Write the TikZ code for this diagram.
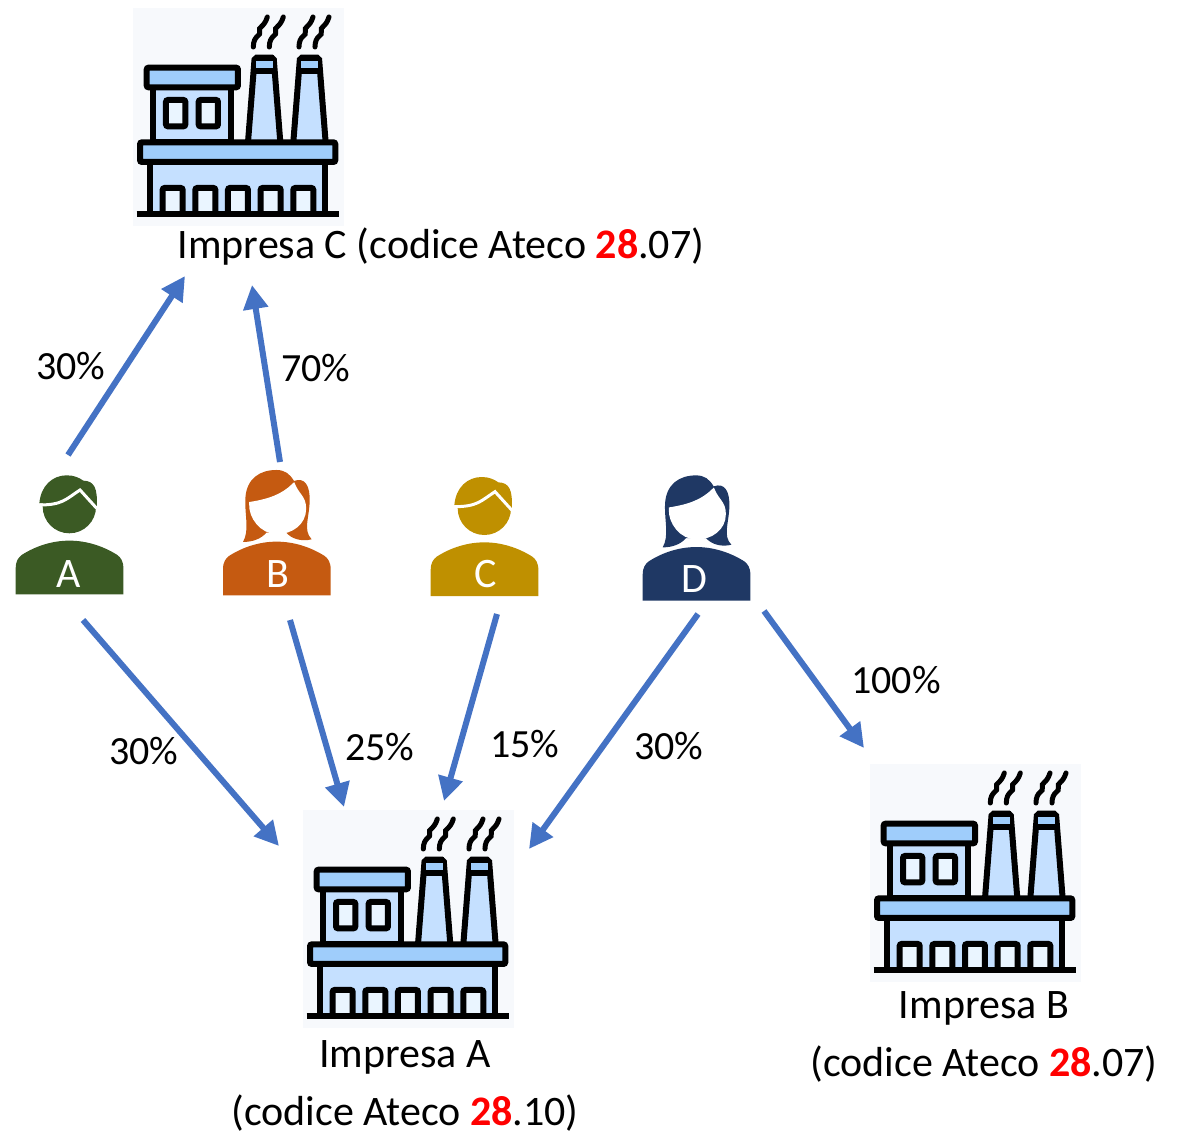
\documentclass[tikz,border=0pt]{standalone}
\usepackage{fontspec}
\setmainfont{Carlito}
\usetikzlibrary{arrows.meta}
\definecolor{ArrowBlue}{HTML}{4472C4}
\definecolor{PanelGrey}{HTML}{F7F9FC}
\definecolor{WallBlue}{HTML}{C5E0FF}
\definecolor{RoofBlue}{HTML}{9FCDFB}
\definecolor{GlassBlue}{HTML}{EAF5FF}
\definecolor{PersonGreen}{HTML}{3B5A24}
\definecolor{PersonOrange}{HTML}{C55A11}
\definecolor{PersonGold}{HTML}{BF9000}
\definecolor{PersonNavy}{HTML}{1F3864}
\tikzset{
  share/.style={very thick, ArrowBlue, line width=6pt, -{Triangle[length=24pt,width=24pt]}},
  pct/.style={font=\fontsize{40}{48}\selectfont},
  firm/.style={font=\fontsize{42}{58}\selectfont, align=center},
  letter/.style={white, font=\fontsize{42}{50}\selectfont},
  smoke/.style={line width=5pt, line cap=round},
  man/.pic={
    \begin{scope}[scale=0.3333]
    \fill[pic actions] (0,0) -- (0,-78) .. controls (0,-100) and (8,-110) .. (18,-118)
      .. controls (60,-145) and (110,-161) .. (161,-161)
      .. controls (212,-161) and (262,-145) .. (305,-118)
      .. controls (315,-110) and (323,-100) .. (323,-78) -- (323,0) -- cycle;
    \fill[pic actions] (161,-263) circle (80);
    %
    \fill[pic actions] (71,-273) .. controls (75,-325) and (110,-357) .. (153,-357)
      .. controls (175,-357) and (190,-350) .. (203,-341)
      .. controls (235,-340) and (247,-320) .. (243,-258) -- (193,-313)
      .. controls (160,-290) and (135,-273) .. (71,-273) -- cycle;
    \draw[white, line width=3pt] (71,-268) .. controls (140,-268) and (150,-285) .. (193,-313) -- (243,-258);
    \end{scope}
  },
  woman/.pic={
    \begin{scope}[scale=0.3333]
    \fill[pic actions] (0,0) -- (0,-78) .. controls (0,-100) and (8,-110) .. (18,-118)
      .. controls (60,-145) and (110,-161) .. (161,-161)
      .. controls (212,-161) and (262,-145) .. (305,-118)
      .. controls (315,-110) and (323,-100) .. (323,-78) -- (323,0) -- cycle;
    %
    \fill[pic actions] (60,-160) .. controls (80,-195) and (65,-240) .. (67,-290)
      .. controls (70,-350) and (110,-376) .. (160,-376)
      .. controls (185,-376) and (200,-365) .. (213,-343)
      .. controls (245,-355) and (262,-330) .. (260,-280)
      .. controls (258,-230) and (240,-195) .. (266,-168)
      .. controls (235,-160) and (205,-170) .. (190,-188) -- (130,-188)
      .. controls (115,-170) and (90,-160) .. (60,-160) -- cycle;
    \draw[white, line width=3pt, fill=. ] (83,-276) .. controls (140,-285) and (180,-300) .. (212,-332)
      .. controls (225,-300) and (245,-295) .. (245,-260)
      .. controls (245,-215) and (205,-188) .. (162,-188)
      .. controls (115,-188) and (80,-235) .. (83,-276) -- cycle;
    \end{scope}
  },
  factory/.pic={
    \begin{scope}[scale=0.3333, shift={(-25,-25)}, line width=6pt, rounded corners=2pt]
    \fill[PanelGrey, rounded corners=0pt] (25,25) rectangle (658,680);
    % lower floor
    \draw[fill=WallBlue, rounded corners=0pt] (75,487) rectangle (602,643);
    \foreach \doorx in {114,212,310,408,506}
      \draw[fill=GlassBlue] (\doorx,643) -- (\doorx,565) -- (\doorx+60,565) -- (\doorx+60,643);
    \draw[line width=6pt] (36,643) -- (642,643);
    % upper floor
    \draw[fill=WallBlue, rounded corners=0pt] (84,263) rectangle (320,428);
    \draw[fill=RoofBlue] (66,204) rectangle (340,263);
    \draw[fill=GlassBlue] (124,301) rectangle (182,380);
    \draw[fill=GlassBlue] (222,301) rectangle (280,380);
    % chimneys
    \foreach \chimx in {0,136} {
      \draw[fill=WallBlue] (370+\chimx,428) -- (390+\chimx,174) -- (447+\chimx,174) -- (467+\chimx,428);
      \fill[RoofBlue, rounded corners=0pt] (393+\chimx,177) rectangle (444+\chimx,213);
      \draw (390+\chimx,174) -- (447+\chimx,174);
      \draw (387+\chimx,213) -- (450+\chimx,213);
    }
    \foreach \wispx in {386,434,523,571}
      \draw[smoke, rounded corners=0pt] (\wispx,142) .. controls (\wispx,105) and (\wispx+25,110) .. (\wispx+19,95)
        .. controls (\wispx+14,80) and (\wispx+32,85) .. (\wispx+42,52);
    \draw[fill=RoofBlue] (46,428) rectangle (632,487);
    \end{scope}
  }
}
\begin{document}
\begin{tikzpicture}[x=1pt, y=-1pt]
\useasboundingbox (0,0) rectangle (1186,1137);
%
\pic at (133,8) {factory};
\pic at (303,810) {factory};
\pic at (870,764) {factory};
%
\node[firm] (firmC) at (441,247) {Impresa C (codice Ateco \textcolor{red}{\textbf{28}}.07)};
\node[firm] (firmA) at (405,1086) {Impresa A\\(codice Ateco \textcolor{red}{\textbf{28}}.10)};
\node[firm] (firmB) at (984,1037) {Impresa B\\(codice Ateco \textcolor{red}{\textbf{28}}.07)};
%
\pic[PersonGreen] at (15.7,594.3) {man};
\pic[PersonOrange] at (223,595.3) {woman};
\pic[PersonGold] at (430.7,596) {man};
\pic[PersonNavy] at (642.7,600.7) {woman};
\node[letter] (persA) at (69,574) {A};
\node[letter] (persB) at (278,574) {B};
\node[letter] (persC) at (486,574) {C};
\node[letter] (persD) at (694,579) {D};
%
\coordinate (aUp) at (68,455);
\coordinate (bUp) at (280,462);
\coordinate (aDown) at (83,620);
\coordinate (bDown) at (290,620);
\coordinate (cDown) at (497,614);
\coordinate (dDown) at (698,614);
\coordinate (dRight) at (764,611);
\coordinate (firmCa) at (185,276);
\coordinate (firmCb) at (252,285);
\coordinate (firmAa) at (279,846);
\coordinate (firmAb) at (344,807);
\coordinate (firmAc) at (444,801);
\coordinate (firmAd) at (529,849);
\coordinate (firmBd) at (864,748);
%
\draw[share] (aUp) -- (firmCa);
\draw[share] (bUp) -- (firmCb);
\draw[share] (aDown) -- (firmAa);
\draw[share] (bDown) -- (firmAb);
\draw[share] (cDown) -- (firmAc);
\draw[share] (dDown) -- (firmAd);
\draw[share] (dRight) -- (firmBd);
%
\node[pct] (pctAC) at (71,366) {30\%};
\node[pct] (pctBC) at (316,368) {70\%};
\node[pct] (pctAA) at (144,751) {30\%};
\node[pct] (pctBA) at (380,747) {25\%};
\node[pct] (pctCA) at (525,744) {15\%};
\node[pct] (pctDA) at (669,746) {30\%};
\node[pct] (pctDB) at (896,680) {100\%};
\end{tikzpicture}
\end{document}
